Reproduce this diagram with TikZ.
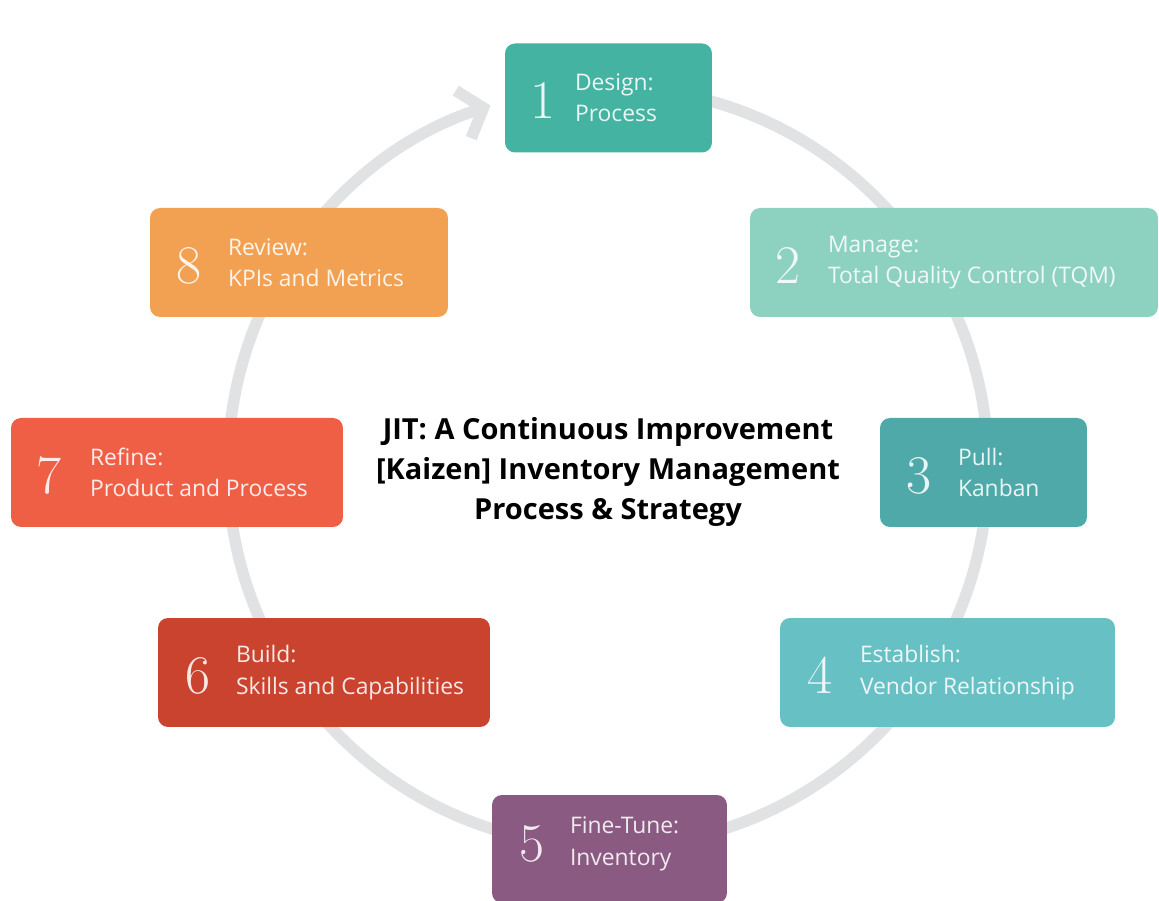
\documentclass[tikz,border=0pt]{standalone}
\usepackage{fontspec}
\usetikzlibrary{arrows.meta,positioning}

\newfontfamily\labelfont{Open Sans}

\definecolor{cOne}{HTML}{45B3A2}
\definecolor{cTwo}{HTML}{8DD1C0}
\definecolor{cThree}{HTML}{4FA9A9}
\definecolor{cFour}{HTML}{67C0C3}
\definecolor{cFive}{HTML}{8A5A82}
\definecolor{cSix}{HTML}{C9432F}
\definecolor{cSeven}{HTML}{EE5F46}
\definecolor{cEight}{HTML}{F2A152}
\definecolor{ringgray}{HTML}{E1E2E4}

\tikzset{
  stepbox/.style={rectangle, rounded corners=0.2cm, fill=#1, inner sep=0pt, minimum height=2.18cm},
  stepnum/.style={text=#1!12!white, inner sep=0pt, font=\rmfamily\fontsize{31}{31}\selectfont},
  steptext/.style={text=#1!12!white, anchor=west, align=left, inner sep=0pt, font=\labelfont\fontsize{13}{17.8}\selectfont},
}

\begin{document}
\begin{tikzpicture}[x=0.02cm,y=0.02cm]

  \useasboundingbox (0,0) rectangle (1159,901);

% ring with arrow into step 1
  \coordinate (ring) at (608,434);
  \draw[line width=0.23cm, draw=ringgray, -{Straight Barb[length=0.42cm,width=1.0cm]}]
        ([shift={(80:380)}]ring) arc[start angle=80, end angle=-252, radius=380];

% steps
  \node[stepbox=cOne,   minimum width=4.14cm] (b1) at (608.5,803)  {};
  \node[stepbox=cTwo,   minimum width=8.16cm] (b2) at (954,638.5)  {};
  \node[stepbox=cThree, minimum width=4.14cm] (b3) at (983.5,428.5) {};
  \node[stepbox=cFour,  minimum width=6.70cm] (b4) at (947.5,228.5) {};
  \node[stepbox=cFive,  minimum width=4.70cm, minimum height=2.16cm] (b5) at (609.5,52) {};
  \node[stepbox=cSix,   minimum width=6.64cm] (b6) at (324,228.5)  {};
  \node[stepbox=cSeven, minimum width=6.64cm] (b7) at (177,428.5)  {};
  \node[stepbox=cEight, minimum width=5.96cm] (b8) at (299,638.5)  {};

% numbers and labels
  \node[stepnum=cOne]   (n1) at ([xshift=0.76cm,yshift=-0.06cm]b1.west) {1};
  \node[steptext=cOne]  (t1) at ([xshift=1.40cm]b1.west) {Design:\\Process};

  \node[stepnum=cTwo]   (n2) at ([xshift=0.76cm,yshift=-0.06cm]b2.west) {2};
  \node[steptext=cTwo]  (t2) at ([xshift=1.56cm]b2.west) {Manage:\\Total Quality Control (TQM)};

  \node[stepnum=cThree] (n3) at ([xshift=0.78cm,yshift=-0.06cm]b3.west) {3};
  \node[steptext=cThree](t3) at ([xshift=1.56cm]b3.west) {Pull:\\Kanban};

  \node[stepnum=cFour]  (n4) at ([xshift=0.80cm,yshift=-0.06cm]b4.west) {4};
  \node[steptext=cFour] (t4) at ([xshift=1.60cm]b4.west) {Establish:\\Vendor Relationship};

  \node[stepnum=cFive]  (n5) at ([xshift=0.80cm,yshift=0.1cm]b5.west) {5};
  \node[steptext=cFive] (t5) at ([xshift=1.56cm,yshift=0.1cm]b5.west) {Fine-Tune:\\Inventory};

  \node[stepnum=cSix]   (n6) at ([xshift=0.80cm,yshift=-0.06cm]b6.west) {6};
  \node[steptext=cSix]  (t6) at ([xshift=1.56cm]b6.west) {Build:\\Skills and Capabilities};

  \node[stepnum=cSeven] (n7) at ([xshift=0.76cm,yshift=-0.06cm]b7.west) {7};
  \node[steptext=cSeven](t7) at ([xshift=1.58cm]b7.west) {Refine:\\Product and Process};

  \node[stepnum=cEight] (n8) at ([xshift=0.78cm,yshift=-0.06cm]b8.west) {8};
  \node[steptext=cEight](t8) at ([xshift=1.56cm]b8.west) {Review:\\KPIs and Metrics};

% title in the middle
  \node[align=center, font=\labelfont\bfseries\fontsize{16.5}{22.5}\selectfont] (title) at (608,429)
        {JIT: A Continuous Improvement\\{[Kaizen]} Inventory Management\\Process \& Strategy};

\end{tikzpicture}
\end{document}
